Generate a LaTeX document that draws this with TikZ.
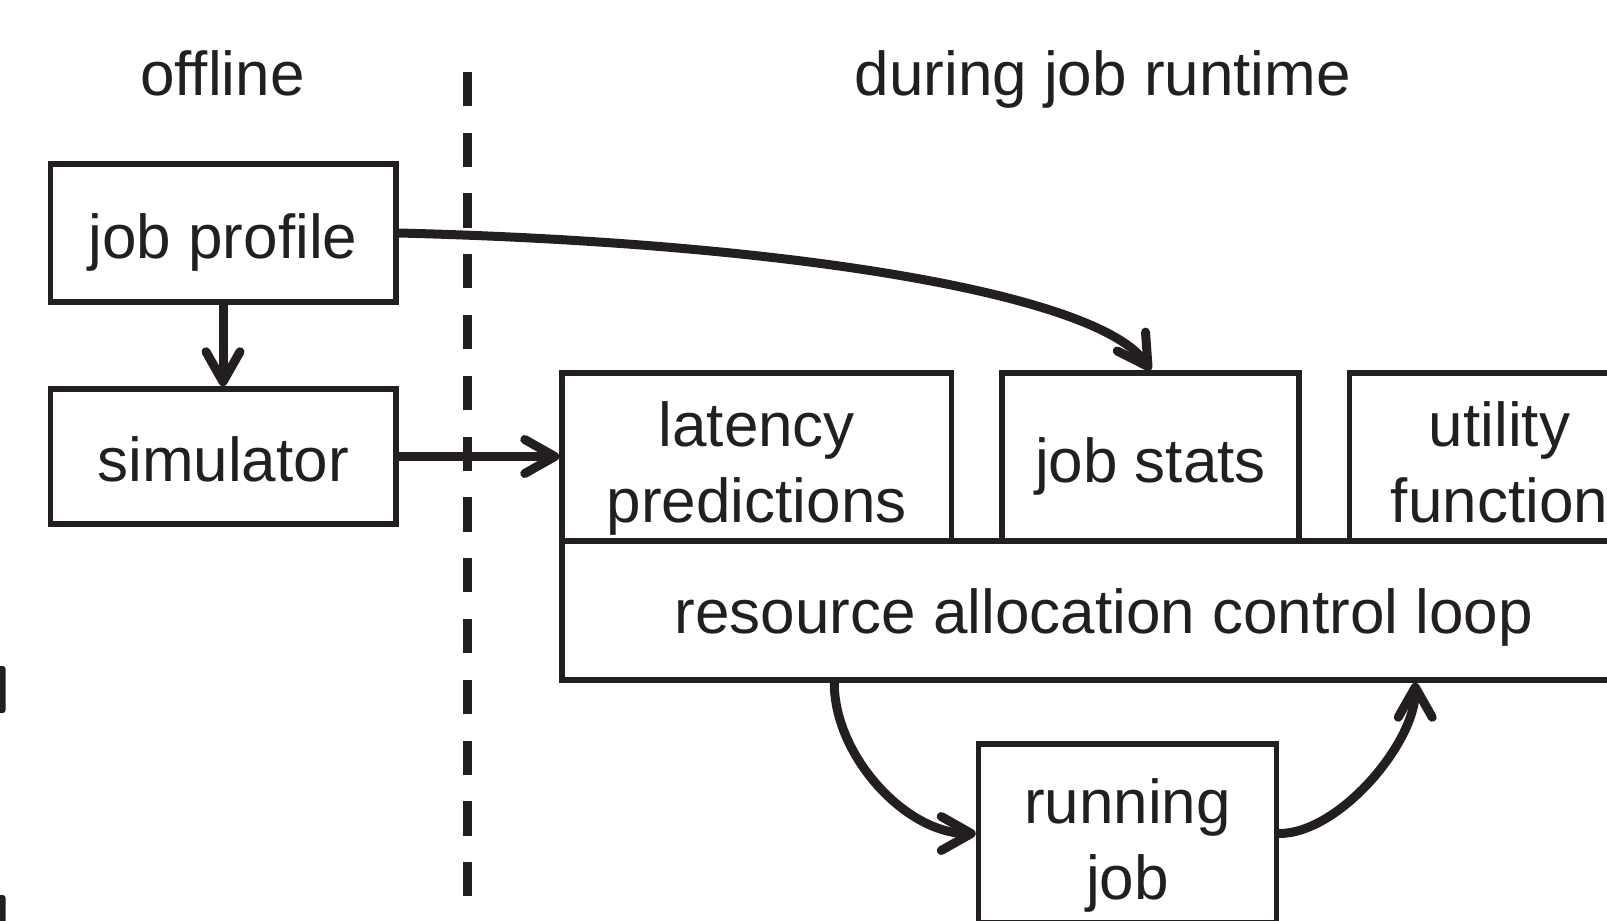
\documentclass[tikz,border=0pt]{standalone}
\usepackage{fontspec}
\setmainfont{Liberation Sans}
\usetikzlibrary{arrows.meta}
\definecolor{ink}{RGB}{35,31,32}
\begin{document}
\begin{tikzpicture}[x=1pt,y=-1pt,
  txt/.style={text=ink, inner sep=0pt, font=\fontsize{62}{76}\selectfont},
  box/.style={txt, draw=ink, line width=5.5pt, align=center},
  oneline/.style={text height=50pt, text depth=0pt},
  link/.style={draw=ink, line width=9pt, line cap=round,
    -{Straight Barb[length=30pt,width=34pt,round]}},
  divider/.style={draw=ink, line width=9pt, dash pattern=on 34.3pt off 26.5pt}
]
\clip (0,0) rectangle (1607,921);

% section headings
\node[txt, anchor=base] (offl) at (222.5,95.5) {offline};
\node[txt, anchor=base] (rt) at (1102.8,95.5) {during job runtime};

% divider between offline and runtime parts
\coordinate (divtop) at (467,71.7);
\coordinate (divbot) at (467,897);
\draw[divider] (divtop) -- (divbot);

% offline boxes
\node[box, oneline, minimum width=345.5pt, minimum height=138pt] (jp) at (223,233) {job profile};
\node[box, oneline, minimum width=345.5pt, minimum height=135pt] (sim) at (223,456.5) {simulator};

% runtime boxes
\node[box, minimum width=389.5pt, minimum height=168pt] (lat) at (756.75,457)
  {\rule{0pt}{70pt}latency\\predictions\rule[-15pt]{0pt}{15pt}};
\node[box, oneline, minimum width=297pt, minimum height=168pt] (stats) at (1150.5,457) {job stats};
\node[box, minimum width=299.8pt, minimum height=168pt] (util) at (1499.4,457)
  {\rule{0pt}{70pt}utility\\function\rule[-15pt]{0pt}{15pt}};
\node[box, oneline, text height=46pt, minimum width=1083.6pt, minimum height=139pt] (res) at (1103.8,610.5)
  {resource allocation control loop};
\node[box, minimum width=298pt, minimum height=179pt] (run) at (1127.5,833.5)
  {\rule{0pt}{70pt}running\\job\rule[-15pt]{0pt}{15pt}};

% connectors
\draw[link] (jp.south) -- (sim.north);
\draw[link] (sim.east) -- (sim.east -| lat.west);
\draw[link] (jp.east) .. controls +(400,10) and +(-50,-75) .. (stats.north);
\draw[link] ([xshift=275pt]res.south west) .. controls +(0,73) and +(-70,0) .. (run.west);
\draw[link] (run.east) .. controls +(60,0) and +(0,60) .. ([xshift=856pt]res.south west);

% glyph fragments on the left edge
\fill[ink, rounded corners=3pt] (-6,713) -- (-6,666) -- (5.7,666) -- (5.7,713) -- cycle;
\fill[ink, rounded corners=3pt] (-6,930) -- (-6,895) -- (5.7,895) -- (5.7,930) -- cycle;
\end{tikzpicture}
\end{document}
